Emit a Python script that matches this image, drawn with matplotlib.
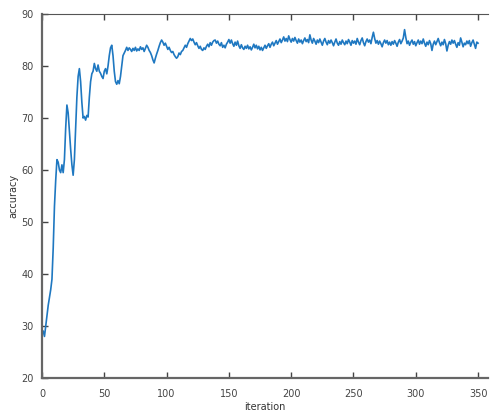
import matplotlib
matplotlib.use("Agg")
import matplotlib.pyplot as plt
import numpy as np

accuracy = [
    29.0, 28.0, 30.0, 32.0, 34.0, 35.5, 37.0, 39.0, 45.0, 53.0,
    58.0, 62.0, 61.5, 60.0, 59.5, 61.0, 59.5, 62.0, 68.0, 72.5,
    71.0, 67.5, 64.0, 61.0, 59.0, 62.0, 68.0, 74.0, 78.0, 79.5,
    77.0, 73.0, 70.0, 70.3, 69.6, 70.5, 70.2, 74.0, 77.0, 78.5,
    79.0, 80.5, 79.5, 79.0, 80.2, 79.0, 78.6, 78.0, 77.6, 79.0,
    79.5, 78.5, 80.0, 82.0, 83.5, 84.0, 82.0, 79.0, 77.0, 76.5,
    77.2, 76.6, 78.0, 80.0, 82.0, 82.5, 83.0, 83.6, 83.0, 83.5,
    83.2, 82.8, 83.4, 83.0, 83.6, 82.9, 83.3, 83.0, 83.7, 83.2,
    83.5, 82.8, 83.4, 84.0, 83.6, 83.0, 82.6, 82.0, 81.2, 80.6,
    81.5, 82.3, 83.0, 83.8, 84.5, 85.0, 84.6, 84.0, 84.4, 83.8,
    83.2, 83.6, 83.0, 82.6, 82.8, 82.2, 81.8, 81.5, 81.8, 82.5,
    82.2, 82.8, 83.0, 83.5, 84.0, 83.6, 84.3, 84.8, 85.3, 84.9,
    85.2, 84.6, 84.1, 84.5, 83.9, 83.4, 83.8, 83.2, 83.0, 83.5,
    83.2, 83.8, 84.2, 83.7, 84.5, 84.0, 84.6, 84.9, 85.0, 84.4,
    84.8, 84.2, 83.9, 84.5, 83.6, 84.0, 83.5, 84.2, 84.6, 85.1,
    84.4, 85.0, 84.3, 83.8, 84.6, 84.0, 84.8, 83.9, 83.4, 84.1,
    83.5, 83.2, 83.8, 83.4, 84.0, 83.3, 83.7, 83.1, 83.6, 84.2,
    83.5, 84.0, 83.3, 83.8, 83.1, 83.6, 83.0, 83.5, 84.0, 83.4,
    83.9, 84.3, 83.6, 84.2, 84.6, 83.9, 84.4, 84.9, 84.2, 84.7,
    85.2, 84.5, 85.0, 85.6, 84.8, 85.3, 84.7, 85.8, 85.1, 84.6,
    85.3, 84.8, 85.5, 84.9, 84.4, 85.2, 84.6, 85.0, 84.3, 84.9,
    85.4, 84.7, 85.1, 84.5, 86.0, 85.0, 84.4, 85.3, 84.8, 84.2,
    85.0, 84.5, 85.2, 84.6, 84.0, 84.8, 85.3, 84.6, 84.1, 84.9,
    84.4, 85.0, 84.5, 83.9, 84.6, 85.2, 84.4, 84.0, 84.7, 84.2,
    85.0, 84.5, 84.1, 84.8, 84.3, 85.1, 84.6, 84.0, 84.9, 84.4,
    84.8, 84.2, 85.3, 84.6, 84.1, 84.9, 85.4, 84.5, 83.9, 84.7,
    85.2, 84.6, 85.0, 84.3, 85.5, 86.5, 85.3, 84.4, 84.9, 84.2,
    84.8, 84.3, 83.7, 84.5, 85.0, 84.4, 84.9, 84.1, 84.6, 84.0,
    84.7, 84.2, 84.9, 84.4, 83.8, 84.6, 85.1, 84.3, 84.8, 85.4,
    87.0, 85.5, 84.3, 84.8, 84.0, 84.6, 85.0, 84.2, 84.7, 83.9,
    84.5, 85.0, 84.2, 84.8, 84.3, 85.2, 84.4, 83.8, 84.6, 84.1,
    84.9, 84.3, 83.0, 84.2, 84.8, 84.1, 84.7, 85.3, 84.5, 83.9,
    84.6, 84.1, 85.1, 84.3, 82.9, 84.0, 84.7, 84.2, 85.0, 84.4,
    84.9, 84.2, 83.6, 84.5, 84.0, 85.4, 84.6, 83.7, 84.4, 84.1,
    84.8, 84.3, 84.9, 83.8, 84.5, 85.0, 84.2, 83.4, 84.6, 84.4,
]
iterations = list(range(1, len(accuracy) + 1))
x_ticks = [0, 50, 100, 150, 200, 250, 300, 350]
y_ticks = [20, 30, 40, 50, 60, 70, 80, 90]

fig = plt.figure(figsize=(4.9, 4.13), dpi=100)
ax_w = 0.996 - 0.0857
ax = fig.add_axes([0.0857, 0.0847, ax_w, 0.966 - 0.0847])
ax.plot(iterations, accuracy, color="#1f78c1", lw=1.2)
ax.set_xlim(0, 358)
ax.set_ylim(20, 90)
ax.set_xticks(x_ticks)
ax.set_yticks(y_ticks)
ax.tick_params(direction="in", length=4, width=1, labelsize=7,
               colors="#444444", top=True, right=False, pad=6)
ax.tick_params(axis="x", which="both", labeltop=False, pad=8)
for s in ["left", "bottom"]:
    ax.spines[s].set_color("#666666")
    ax.spines[s].set_linewidth(1.6)
ax.spines["top"].set_color("#555555")
ax.spines["top"].set_linewidth(0.8)
ax.spines["right"].set_visible(False)
ax.set_xlabel("iteration", fontsize=7, color="#333333", labelpad=2)
ax.set_ylabel("accuracy", fontsize=7, color="#333333")
ax.yaxis.set_label_coords((18 - 42) / (490 * ax_w), 0.5)
fig.savefig("out.png", dpi=100)
